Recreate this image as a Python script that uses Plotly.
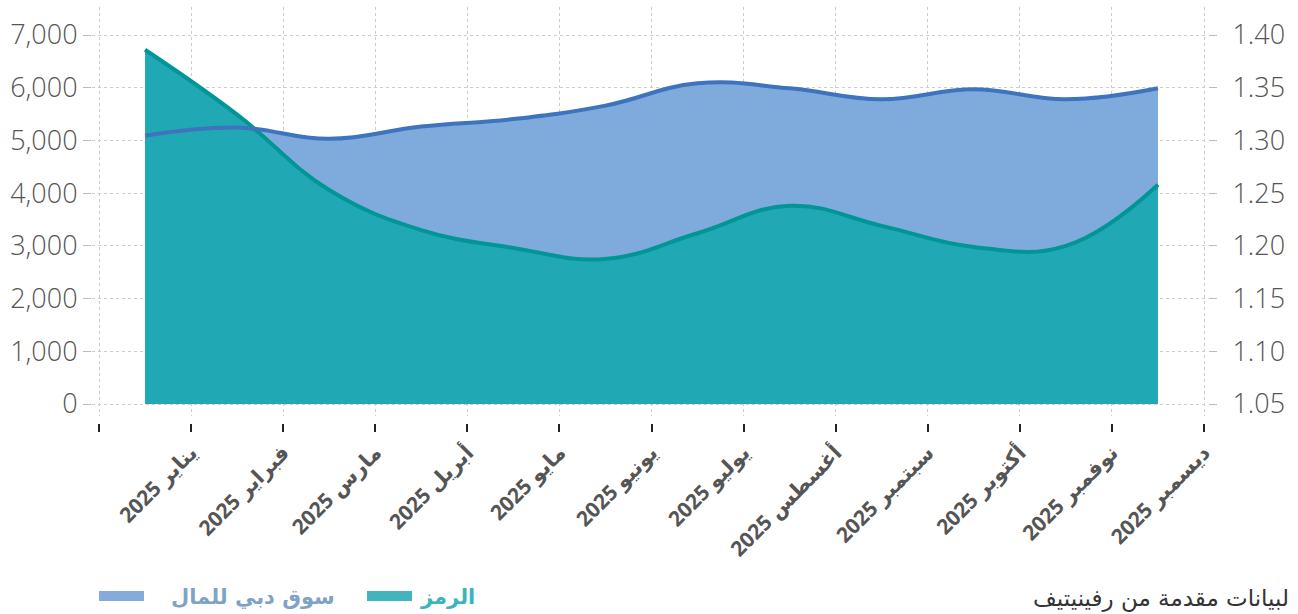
import plotly.graph_objects as go

# ---------------- data ----------------
MONTHS = ["يناير 2025", "فبراير 2025", "مارس 2025", "أبريل 2025", "مايو 2025", "يونيو 2025",
          "يوليو 2025", "أغسطس 2025", "سبتمبر 2025", "أكتوبر 2025", "نوفمبر 2025", "ديسمبر 2025"]
DFM_INDEX = [5090, 5245, 5030, 5264, 5406, 5660, 6084, 5989, 5780, 5970, 5780, 5989]
SYMBOL_PRICE = [1.386, 1.3245, 1.253, 1.215, 1.198, 1.1875, 1.212, 1.238, 1.219, 1.199, 1.200, 1.258]
NAME_SYMBOL = "الرمز"
NAME_DFM = "سوق دبي للمال"
LEFT_TICKS = [0, 1000, 2000, 3000, 4000, 5000, 6000, 7000]
RIGHT_TICKS = [1.05, 1.10, 1.15, 1.20, 1.25, 1.30, 1.35, 1.40]
SOURCE = "لبيانات مقدمة من رفينيتيف"

# ---------------- layout helpers ----------------
W, H = 1298, 614
ML, MR, MT, MB = 92, 90, 7, 191
PW, PH = W - ML - MR, H - MT - MB


def px(x):
    return (x - ML) / PW


def py(y):
    return (H - MB - y) / PH


n = len(MONTHS)
xpos = [i + 0.5 for i in range(n)]
base = [RIGHT_TICKS[0]] * n
ticktext = [""] + ["\u202B" + m + "\u202C" for m in MONTHS]

TEAL_FILL = "#20A8B4"
TEAL_LINE = "#009696"
BLUE_FILL = "#7FAADC"
BLUE_LINE = "#3E73BE"
SMOOTH = 1.2

fig = go.Figure()
# blue area (left axis)
fig.add_trace(go.Scatter(x=xpos, y=DFM_INDEX, yaxis="y", mode="lines",
                         line=dict(color=BLUE_FILL, width=0, shape="spline", smoothing=SMOOTH),
                         fill="tozeroy", fillcolor=BLUE_FILL, showlegend=False, hoverinfo="skip"))
# teal area (right axis)
fig.add_trace(go.Scatter(x=xpos, y=base, yaxis="y2", mode="lines",
                         line=dict(width=0), showlegend=False, hoverinfo="skip"))
fig.add_trace(go.Scatter(x=xpos, y=SYMBOL_PRICE, yaxis="y2", mode="lines", name=NAME_SYMBOL,
                         line=dict(color=TEAL_LINE, width=4, shape="spline", smoothing=SMOOTH),
                         fill="tonexty", fillcolor=TEAL_FILL, showlegend=False))
# blue line on top
fig.add_trace(go.Scatter(x=xpos, y=DFM_INDEX, yaxis="y3", mode="lines", name=NAME_DFM,
                         line=dict(color=BLUE_LINE, width=4, shape="spline", smoothing=SMOOTH),
                         showlegend=False))

left_range = [-(416 - 404) / 52.71 * 1000, 7000 + (35 - 7) / 52.71 * 1000]
right_range = [1.05 - 12 / 1054.2, 1.40 + 28 / 1054.2]
ydom = [(423 - 416) / PH, 1]
GRID = "#cccccc"
tickfont = dict(family="Open Sans", size=27, color="#555555", weight=300)

fig.update_layout(
    width=W, height=H,
    margin=dict(l=ML, r=MR, t=MT, b=MB),
    paper_bgcolor="white", plot_bgcolor="white",
    showlegend=False,
    xaxis=dict(range=[(92 - 99) / 92.08, 12 + 4 / 92.08], tickmode="array",
               tickvals=list(range(n + 1)), ticktext=ticktext, tickangle=-45,
               tickfont=dict(family="Noto Sans, DejaVu Sans", size=21, color="#555555", weight="bold"),
               ticks="outside", ticklen=8, tickwidth=2, tickcolor="#222222",
               showgrid=True, gridcolor=GRID, griddash="3px,3px", gridwidth=1,
               zeroline=False, showline=False, anchor="free", position=0),
    yaxis=dict(domain=ydom, range=left_range, tickmode="array", tickvals=LEFT_TICKS,
               tickformat=",d", tickfont=tickfont, ticks="outside", ticklen=8,
               tickcolor="#bbbbbb", showgrid=True, gridcolor=GRID, griddash="3px,3px",
               zeroline=False, showline=False),
    yaxis2=dict(domain=ydom, range=right_range, overlaying="y", side="right", tickmode="array",
                tickvals=RIGHT_TICKS, tickformat=".2f", tickfont=tickfont, ticks="outside",
                ticklen=8, tickcolor="#bbbbbb", showgrid=False, zeroline=False, showline=False,
                ticklabelstandoff=10),
    yaxis3=dict(domain=ydom, range=left_range, overlaying="y", visible=False),
)

# legend (drawn manually)
legend_font = dict(family="DejaVu Sans", size=21, weight="bold")
fig.add_shape(type="rect", xref="paper", yref="paper", x0=px(99), x1=px(144), y0=py(601), y1=py(591),
              fillcolor="#85ABDD", line=dict(width=0))
fig.add_annotation(xref="paper", yref="paper", x=px(337), y=py(597), xanchor="right", yanchor="middle",
                   text=NAME_DFM, showarrow=False, font=dict(color="#7FA3C6", **legend_font))
fig.add_shape(type="rect", xref="paper", yref="paper", x0=px(367), x1=px(412), y0=py(601), y1=py(591),
              fillcolor="#42B4BC", line=dict(width=0))
fig.add_annotation(xref="paper", yref="paper", x=px(477), y=py(597), xanchor="right", yanchor="middle",
                   text=NAME_SYMBOL, showarrow=False, font=dict(color="#3CB4BD", **legend_font))
# source
fig.add_annotation(xref="paper", yref="paper", x=px(1291), y=py(598), xanchor="right", yanchor="middle",
                   text=SOURCE, showarrow=False,
                   font=dict(family="DejaVu Sans", size=23, color="#333333"))

fig.write_html("out.html", config={"displayModeBar": False},
               post_script="document.body.style.margin='0';document.body.style.overflow='hidden';")
